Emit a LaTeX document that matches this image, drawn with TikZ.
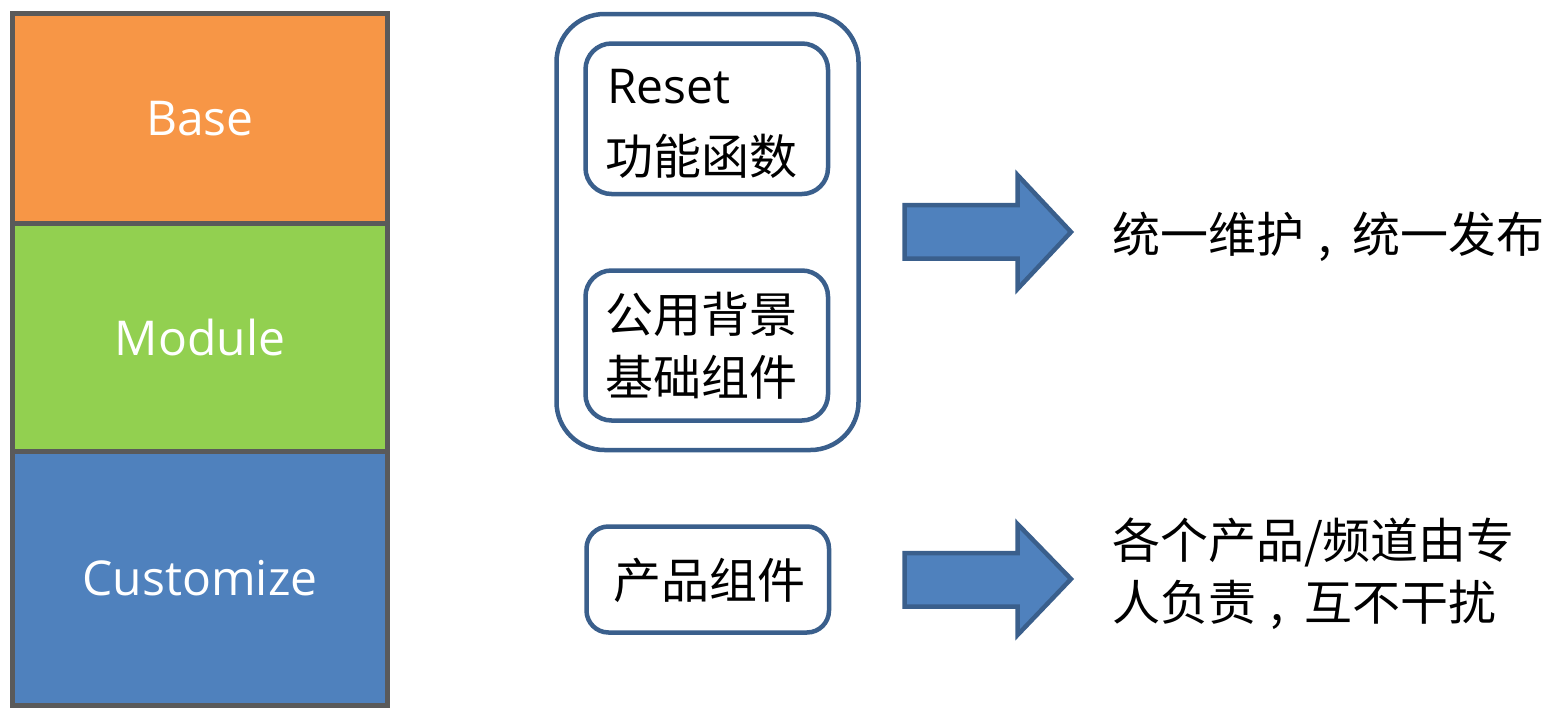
\documentclass[tikz,border=0pt]{standalone}
\usepackage{fontspec}
\setmainfont{Open Sans}
\newfontfamily\cjk{Noto Sans CJK SC}
\definecolor{cBase}{HTML}{F79646}
\definecolor{cModule}{HTML}{92D050}
\definecolor{cCust}{HTML}{4F81BD}
\definecolor{cGray}{HTML}{5A5A5A}
\definecolor{cEdge}{HTML}{3A5F8C}
\newcommand{\zcomma}{\makebox[1em][c]{\hspace{-0.1em},}}
\tikzset{
  layer/.style={draw=cGray, line width=5pt, minimum width=375pt, text=white,
    font=\fontsize{48}{56}\selectfont, inner sep=0pt, outer sep=0pt},
  frame/.style={draw=cEdge, line width=4.5pt, fill=white, inner sep=0pt, outer sep=0pt},
  txt/.style={anchor=base west, inner sep=0pt, outer sep=0pt, text=black,
    font=\fontsize{48}{56}\selectfont},
  cjktxt/.style={txt, font=\cjk\fontsize{48}{56}\selectfont},
  bigarrow/.style={draw=cEdge, line width=4.5pt, fill=cCust, line join=miter}
}
\begin{document}
\begin{tikzpicture}[x=1pt, y=-1pt]
\useasboundingbox (0,0) rectangle (1547,707);
% layers
\node[layer, fill=cBase, minimum height=210pt] (base) at (200,118.5) {Base};
\node[layer, fill=cModule, minimum height=227.5pt] (module) at (200,337.25) {Module};
\node[layer, fill=cCust, minimum height=254pt] (cust) at (200,578) {Customize};
% boxes
\node[frame, minimum width=302pt, minimum height=436pt, rounded corners=48pt] (outer) at (707.5,232) {};
\node[frame, minimum width=242.5pt, minimum height=150.5pt, rounded corners=26pt] (box1) at (706.75,118.75) {};
\node[frame, minimum width=242.5pt, minimum height=150pt, rounded corners=26pt] (box2) at (706.75,345.5) {};
\node[frame, minimum width=242.5pt, minimum height=106pt, rounded corners=22pt] (box3) at (707.75,579.5) {};
% box texts
\node[txt] (reset) at (607,103) {Reset};
\node[cjktxt] (gnhs) at (605,174) {功能函数};
\node[cjktxt] (gybj) at (605,332.5) {公用背景};
\node[cjktxt] (jczj) at (605,395) {基础组件};
\node[cjktxt] (cpzj) at (613,598) {产品组件};
% arrows
\draw[bigarrow] (904.5,205) -- (1017.5,205) -- (1017.5,175) -- (1071,232)
  -- (1017.5,289) -- (1017.5,258.5) -- (904.5,258.5) -- cycle;
\draw[bigarrow] (904.5,553) -- (1017.5,553) -- (1017.5,524) -- (1071,579)
  -- (1017.5,635) -- (1017.5,606.5) -- (904.5,606.5) -- cycle;
% right texts
\node[cjktxt] (t1) at (1112,252) {统一维护\zcomma 统一发布};
\node[cjktxt] (t2a) at (1112,558) {各个产品/频道由专};
\node[cjktxt] (t2b) at (1112,620) {人负责\zcomma 互不干扰};
\end{tikzpicture}
\end{document}
